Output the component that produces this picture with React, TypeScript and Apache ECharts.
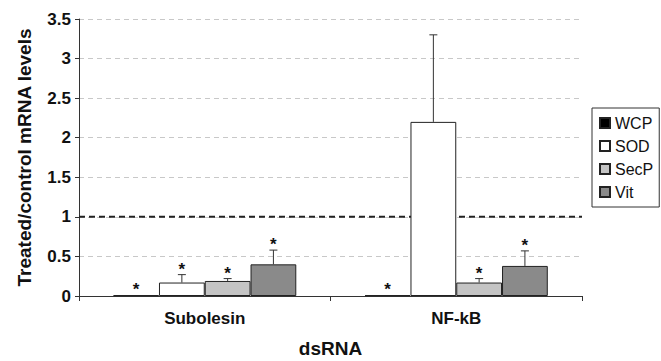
import React, { useEffect, useRef } from "react";
import * as echarts from "echarts";

const categories = ["Subolesin", "NF-kB"];
const seriesNames = ["WCP", "SOD", "SecP", "Vit"];
const colors = ["#000000", "#ffffff", "#c4c4c4", "#8a8a8a"];
const wcp = [0.01, 0.01];
const sod = [0.17, 2.2];
const secp = [0.19, 0.17];
const vit = [0.4, 0.38];
const wcpErr = [0.01, 0.01];
const sodErr = [0.27, 3.3];
const secpErr = [0.22, 0.22];
const vitErr = [0.58, 0.57];
const wcpStar = [true, true];
const sodStar = [true, false];
const secpStar = [true, true];
const vitStar = [true, true];
const referenceLevel = 1;

const values = [wcp, sod, secp, vit];
const errs = [wcpErr, sodErr, secpErr, vitErr];
const stars = [wcpStar, sodStar, secpStar, vitStar];
const BAR_FRAC = 0.182;
const FONT = "Liberation Sans, Arial, sans-serif";

export default function App() {
  const ref = useRef<HTMLDivElement>(null);
  useEffect(() => {
    const chart = echarts.init(ref.current!, null, { renderer: "svg" });
    const barSeries = seriesNames.map((name, i) => ({
      name,
      type: "bar",
      data: values[i],
      barWidth: BAR_FRAC * 100 + "%",
      barGap: "0%",
      z: 3,
      itemStyle: { color: colors[i], borderColor: "#222", borderWidth: 1 },
    }));
    const errSeries = seriesNames.map((name, i) => ({
      type: "custom",
      z: 4,
      silent: true,
      data: categories.map((c, j) => [j, values[i][j], errs[i][j], stars[i][j] ? 1 : 0]),
      renderItem: (params: any, api: any) => {
        const j = api.value(0);
        const v = api.value(1);
        const e = api.value(2);
        const s = api.value(3);
        const catW = api.size([1, 0])[0];
        const base = api.coord([j, v]);
        const x = base[0] + (i - 1.5) * BAR_FRAC * catW;
        const yTop = api.coord([j, e])[1];
        const yVal = base[1];
        const children: any[] = [];
        if (e > v + 0.001) {
          children.push({
            type: "line",
            shape: { x1: x, y1: yVal, x2: x, y2: yTop },
            style: { stroke: "#333", lineWidth: 1 },
          });
          children.push({
            type: "line",
            shape: { x1: x - 4, y1: yTop, x2: x + 4, y2: yTop },
            style: { stroke: "#333", lineWidth: 1 },
          });
        }
        if (s) {
          children.push({
            type: "text",
            style: {
              text: "*",
              x,
              y: Math.min(yTop, yVal) + 3,
              textAlign: "center",
              textVerticalAlign: "bottom",
              font: "bold 17px " + FONT,
              fill: "#111",
            },
          });
        }
        return { type: "group", children };
      },
    }));
    const refLine = {
      type: "custom",
      z: 2,
      silent: true,
      data: [[0, referenceLevel]],
      renderItem: (params: any, api: any) => {
        const cs = params.coordSys;
        const y = api.coord([0, api.value(1)])[1];
        return {
          type: "line",
          shape: { x1: cs.x, y1: y, x2: cs.x + cs.width, y2: y },
          style: { stroke: "#222", lineWidth: 2, lineDash: [6, 4] },
        };
      },
    };
    chart.setOption({
      animation: false,
      backgroundColor: "#ffffff",
      textStyle: { fontFamily: FONT },
      grid: { left: 79, right: 79, top: 19, bottom: 65, outerBoundsMode: "none", containLabel: false },
      legend: {
        data: seriesNames,
        orient: "vertical",
        left: 592,
        top: 108,
        icon: "rect",
        itemWidth: 10,
        itemHeight: 10,
        itemGap: 7,
        padding: [7, 6, 7, 7],
        borderColor: "#333",
        borderWidth: 1,
        textStyle: { fontSize: 16, color: "#111", fontFamily: FONT },
      },
      xAxis: {
        type: "category",
        data: categories,
        name: "dsRNA",
        nameLocation: "middle",
        nameGap: 43,
        nameTextStyle: { fontSize: 19, fontWeight: "bold", color: "#111" },
        axisLine: { lineStyle: { color: "#333", width: 1 } },
        axisTick: { show: true, alignWithLabel: false, length: 5, lineStyle: { color: "#333" } },
        axisLabel: { fontSize: 17, fontWeight: "bold", color: "#111", margin: 14 },
      },
      yAxis: {
        type: "value",
        min: 0,
        max: 3.5,
        interval: 0.5,
        name: "Treated/control mRNA levels",
        nameLocation: "middle",
        nameGap: 45,
        nameTextStyle: { fontSize: 19, fontWeight: "bold", color: "#111" },
        axisLine: { show: true, lineStyle: { color: "#333", width: 1 } },
        axisTick: { show: true, length: 4, lineStyle: { color: "#333" } },
        axisLabel: { fontSize: 17, fontWeight: "bold", color: "#111", margin: 8 },
        splitLine: { show: true, lineStyle: { color: "#c8c8c8", type: [5, 4], width: 1 } },
      },
      series: [refLine, ...barSeries, ...errSeries],
    });
    return () => chart.dispose();
  }, []);
  return <div ref={ref} style={{ width: 661, height: 361, position: "absolute", left: 0, top: 0 }} />;
}
